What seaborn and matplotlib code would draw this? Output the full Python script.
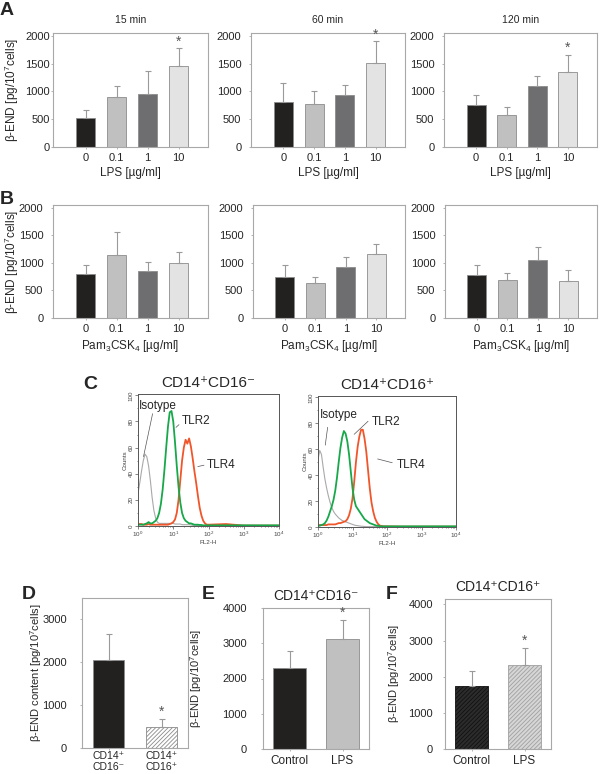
import numpy as np
import pandas as pd
import matplotlib
matplotlib.use('Agg')
import matplotlib.pyplot as plt
import seaborn as sns

# --- data ---
lps_doses = ['0', '0.1', '1', '10']
dose_colors = ['#231f20', '#c0c0c0', '#6e6e70', '#e3e3e3']
time_titles = ['15 min', '60 min', '120 min']

lps_15 = [528, 907, 955, 1465]
lps_15_err = [132, 198, 408, 307]
lps_60 = [806, 776, 937, 1516]
lps_60_err = [340, 233, 173, 383]
lps_120 = [762, 583, 1089, 1357]
lps_120_err = [178, 137, 185, 306]
lps_sig = [False, False, False, True]

pam_15 = [799, 1135, 847, 991]
pam_15_err = [156, 433, 162, 198]
pam_60 = [739, 631, 919, 1153]
pam_60_err = [228, 108, 192, 198]
pam_120 = [778, 695, 1054, 677]
pam_120_err = [192, 125, 239, 191]
pam_sig = [False, False, False, False]

# flow cytometry histograms (log10 of FL2-H channel vs counts)
fl2_log = [0.00, 0.05, 0.10, 0.15, 0.20, 0.25, 0.30, 0.35, 0.40, 0.45,
           0.50, 0.55, 0.60, 0.65, 0.70, 0.75, 0.80, 0.85, 0.90, 0.95,
           1.00, 1.05, 1.10, 1.15, 1.20, 1.25, 1.30, 1.35, 1.40, 1.45,
           1.50, 1.55, 1.60, 1.65, 1.70, 1.75, 1.80, 1.85, 1.90, 1.95,
           2.00, 2.50, 3.00, 3.50, 4.00]
iso_neg = [25, 33, 42, 50, 55, 53, 46, 35, 22, 12,
           6, 3, 2, 2, 2, 2, 2, 2, 2, 2,
           2, 1.5, 1.5, 1.5, 1.5, 1, 1, 1, 1, 1,
           0.8, 0.5, 0.5, 0.5, 0.3, 0.3, 0.3, 0.3, 0.3, 0.3,
           0.3, 0.5, 0.5, 0.3, 0.3]
tlr2_neg = [1, 1, 1, 1, 1.5, 2, 3, 2, 2, 3,
            4, 6, 10, 17, 28, 43, 60, 76, 87, 88,
            80, 64, 46, 30, 18, 10, 6, 4, 3, 2,
            2, 1.5, 1, 1, 1, 0.8, 0.8, 0.5, 0.5, 0.5,
            0.5, 0.5, 0.5, 0.5, 0.5]
tlr4_neg = [1.5, 1.5, 1.5, 1, 1, 1, 1.5, 1, 1, 1,
            1, 1, 1, 1, 1, 1, 1, 1, 1.5, 2,
            3, 5, 10, 20, 35, 50, 60, 66, 63, 67,
            61, 52, 42, 33, 23, 14, 8, 4, 2, 1,
            1, 1.5, 0.3, 0.3, 0.3]
iso_pos = [52, 59, 56, 46, 37, 30, 24, 19, 15, 12,
           10, 8.5, 7, 6, 5, 4.5, 4, 3.5, 3, 2.5,
           2, 1.5, 1.2, 1, 0.8, 0.6, 0.5, 0.4, 0.3, 0.3,
           0.3, 0.3, 0.3, 0.3, 0.3, 0.3, 0.3, 0.3, 0.3, 0.3,
           0.3, 0.3, 0.3, 0.3, 0.3]
tlr2_pos = [1, 1, 1.5, 2, 3, 5, 8, 12, 16, 21,
            28, 38, 50, 61, 69, 74, 72, 66, 56, 43,
            30, 21, 16, 14, 12, 10, 8, 6, 5, 4,
            3, 2.5, 2, 1.5, 1, 1, 0.5, 0.5, 0.5, 0.5,
            0.5, 0.5, 0.5, 0.5, 0.5]
tlr4_pos = [1.5, 1.5, 1.5, 1.5, 1.5, 1.5, 2, 2, 2, 2,
            2, 2.5, 3, 3, 3.5, 4, 4.5, 6, 9, 14,
            22, 35, 50, 62, 70, 75, 75, 68, 58, 44,
            30, 19, 12, 7, 4, 2, 1, 0.8, 0.5, 0.5,
            0.5, 0.3, 0.3, 0.3, 0.3]

d_groups = ['CD14⁺\nCD16⁻', 'CD14⁺\nCD16⁺']
d_vals = [2050, 500]
d_err = [610, 180]
d_sig = [False, True]

treat = ['Control', 'LPS']
e_vals = [2307, 3126]
e_err = [465, 530]
e_sig = [False, True]
f_vals = [1755, 2337]
f_err = [416, 462]
f_sig = [False, True]

# --- style ---
sns.set_theme(style='white')
plt.rcParams['font.family'] = ['Liberation Sans', 'DejaVu Sans']
plt.rcParams['mathtext.fontset'] = 'custom'
plt.rcParams['mathtext.rm'] = 'Liberation Sans'
plt.rcParams['mathtext.it'] = 'Liberation Sans'
plt.rcParams['mathtext.bf'] = 'Liberation Sans:bold'
plt.rcParams['hatch.linewidth'] = 0.6

W, H = 600, 774
FRAME = '#a8a8a8'
YLAB = 'β-END [pg/10$^7$cells]'


def add_ax(fig, x0, y0, x1, y1):
    # axes box given in pixels of the 600x774 canvas
    return fig.add_axes([x0 / W, 1 - y1 / H, (x1 - x0) / W, (y1 - y0) / H])


def bar_panel(ax, cats, vals, errs, colors, sig, ylim, width=0.62,
              hatches=None, hatch_cols=None, tick_pad=5.5, label_size=8,
              xpad=2.5):
    df = pd.DataFrame({'cat': cats, 'val': vals})
    sns.barplot(data=df, x='cat', y='val', hue='cat', palette=colors,
                legend=False, width=width, edgecolor='#8c8c8c',
                linewidth=0.6, ax=ax)
    if hatches:
        for patch, h, hc in zip(list(ax.patches), hatches, hatch_cols):
            if h:
                patch.set_hatch(h)
                patch.set_edgecolor(hc)
    pos = np.arange(len(cats))
    ax.errorbar(pos, vals, yerr=[np.zeros(len(vals)), errs], fmt='none',
                ecolor='#9a9a9a', elinewidth=0.8, capsize=2, capthick=0.8)
    for p, v, e, s in zip(pos, vals, errs, sig):
        if s:
            ax.annotate('*', xy=(p, v + e), xytext=(0, 5),
                        textcoords='offset points', ha='center',
                        va='center', fontsize=10, color='#555555')
    ax.set_ylim(*ylim)
    ax.set_xlabel('')
    ax.set_ylabel('')
    for sp in ax.spines.values():
        sp.set_visible(True)
        sp.set_color(FRAME)
        sp.set_linewidth(0.8)
    ax.tick_params(axis='y', left=True, length=1.5, width=0.6, color=FRAME,
                   labelsize=8, pad=tick_pad)
    ax.tick_params(axis='x', bottom=True, length=1.5, width=0.6, color=FRAME,
                   labelsize=label_size, pad=xpad)


def set_ylab(ax, text, x_px, ax_x0, ax_x1, size):
    ax.set_ylabel(text, fontsize=size)
    ax.yaxis.set_label_coords((x_px - ax_x0) / (ax_x1 - ax_x0), 0.5)


def flow_panel(ax, iso, tlr2, tlr4, title, notes):
    ch = 10 ** np.array(fl2_log)
    sns.lineplot(x=ch, y=iso, color='#a9a9a9', lw=0.8, ax=ax, sort=False)
    sns.lineplot(x=ch, y=tlr4, color='#f0562a', lw=1.3, ax=ax, sort=False)
    sns.lineplot(x=ch, y=tlr2, color='#17a84a', lw=1.3, ax=ax, sort=False)
    ax.set_xscale('log')
    ax.set_xlim(1, 1e4)
    ax.set_ylim(0, 101)
    ax.set_yticks([0, 20, 40, 60, 80, 100])
    ax.set_yticks(range(0, 101, 10), minor=True)
    for lab in ax.get_yticklabels():
        lab.set_rotation(90)
        lab.set_va('center')
    ax.tick_params(which='both', left=True, bottom=True, direction='out',
                   color='#555555', width=0.5, labelsize=4.5, pad=1,
                   labelcolor='#444444')
    ax.tick_params(which='major', length=2)
    ax.tick_params(which='minor', length=1)
    ax.set_ylabel('Counts', fontsize=4.5, labelpad=1, color='#444444')
    ax.set_xlabel('FL2-H', fontsize=4.5, labelpad=0.5, color='#444444')
    for sp in ax.spines.values():
        sp.set_visible(True)
        sp.set_color('#555555')
        sp.set_linewidth(0.7)
    ax.set_title(title, fontsize=11, pad=5)
    for label, txt_pos, start, end in notes:
        ax.text(10 ** txt_pos[0], txt_pos[1], label, fontsize=8.5,
                ha='left', va='center')
        ax.annotate('', xy=(10 ** end[0], end[1]),
                    xytext=(10 ** start[0], start[1]),
                    arrowprops=dict(arrowstyle='-', color='#555555', lw=0.5))


fig = plt.figure(figsize=(6.0, 7.74), dpi=100)

# --- row A: LPS ---
a_boxes = [(53, 33, 208, 147), (251, 33, 405, 147), (444, 33, 597, 147)]
a_pads = [0.7, 5.5, 5.5]
a_data = [(lps_15, lps_15_err), (lps_60, lps_60_err), (lps_120, lps_120_err)]
for i, (box, (v, e)) in enumerate(zip(a_boxes, a_data)):
    ax = add_ax(fig, *box)
    bar_panel(ax, lps_doses, v, e, dose_colors, lps_sig, (0, 2050),
              tick_pad=a_pads[i])
    ax.set_xlim(-1.05, 3.95)
    ax.set_yticks([0, 500, 1000, 1500, 2000])
    ax.set_title(time_titles[i], fontsize=7.5, pad=7)
    ax.set_xlabel('LPS [µg/ml]', fontsize=8.5, labelpad=3)
    if i == 0:
        set_ylab(ax, YLAB, 21, box[0], box[2], 8.5)

# --- row B: Pam3CSK4 ---
b_boxes = [(53, 205, 208, 318), (253, 205, 405, 318), (445, 205, 597, 318)]
b_data = [(pam_15, pam_15_err), (pam_60, pam_60_err), (pam_120, pam_120_err)]
for i, (box, (v, e)) in enumerate(zip(b_boxes, b_data)):
    ax = add_ax(fig, *box)
    bar_panel(ax, lps_doses, v, e, dose_colors, pam_sig, (0, 2050))
    ax.set_xlim(-1.05, 3.95)
    ax.set_yticks([0, 500, 1000, 1500, 2000])
    ax.set_xlabel('Pam$_3$CSK$_4$ [µg/ml]', fontsize=8.5, labelpad=3)
    if i == 0:
        set_ylab(ax, YLAB, 21, box[0], box[2], 8.5)

# --- row C: flow cytometry ---
ax = add_ax(fig, 138, 394, 279, 526)
flow_panel(ax, iso_neg, tlr2_neg, tlr4_neg, 'CD14⁺CD16⁻', [
    ('Isotype', (0.03, 92), (0.43, 88), (0.14, 51)),
    ('TLR2', (1.25, 80), (1.22, 79), (1.02, 74)),
    ('TLR4', (1.96, 47), (1.95, 47), (1.62, 45)),
])
ax = add_ax(fig, 318, 396, 456, 527)
flow_panel(ax, iso_pos, tlr2_pos, tlr4_pos, 'CD14⁺CD16⁺', [
    ('Isotype', (0.06, 86), (0.29, 79), (0.2, 61)),
    ('TLR2', (1.57, 81), (1.51, 83), (0.99, 70)),
    ('TLR4', (2.29, 48), (2.23, 49), (1.65, 53)),
])

# --- D: content per subset ---
ax = add_ax(fig, 82, 598, 188, 748)
bar_panel(ax, d_groups, d_vals, d_err, ['#231f20', '#ffffff'], d_sig,
          (0, 3500), width=0.6, hatches=[None, '////////'],
          hatch_cols=[None, '#8a8a8a'], tick_pad=9.5, label_size=7.5,
          xpad=1)
for lab in ax.get_xticklabels():
    lab.set_linespacing(1.05)
ax.set_xlim(-0.5, 1.5)
ax.set_yticks([0, 1000, 2000, 3000])
set_ylab(ax, 'β-END content [pg/10$^7$cells]', 44, 82, 188, 8)

# --- E: CD14+CD16- with LPS ---
ax = add_ax(fig, 263, 608, 369, 749)
bar_panel(ax, treat, e_vals, e_err, ['#231f20', '#c0c0c0'], e_sig,
          (0, 4000), width=0.62, tick_pad=10, label_size=8.5)
ax.set_xlim(-0.5, 1.5)
ax.set_yticks([0, 1000, 2000, 3000, 4000])
ax.set_title('CD14⁺CD16⁻', fontsize=10, pad=6)
set_ylab(ax, YLAB, 204, 263, 369, 8)

# --- F: CD14+CD16+ with LPS ---
ax = add_ax(fig, 445, 599, 551, 749)
bar_panel(ax, treat, f_vals, f_err, ['#2c2c2c', '#d6d6d6'], f_sig,
          (0, 4150), width=0.62, hatches=['////////', '////////'],
          hatch_cols=['#111111', '#a0a0a0'], tick_pad=7, label_size=8.5)
ax.set_xlim(-0.5, 1.5)
ax.set_yticks([0, 1000, 2000, 3000, 4000])
ax.set_title('CD14⁺CD16⁺', fontsize=10, pad=6)
set_ylab(ax, YLAB, 402, 445, 551, 8)

# panel letters
for letter, x, y in [('A', 0, 2), ('B', 0, 191), ('C', 83, 376),
                     ('D', 22, 586), ('E', 202, 586), ('F', 386, 586)]:
    fig.text(x / W, 1 - y / H, letter, fontsize=14, fontweight='bold',
             ha='left', va='top')

fig.savefig('out.png', dpi=100)
